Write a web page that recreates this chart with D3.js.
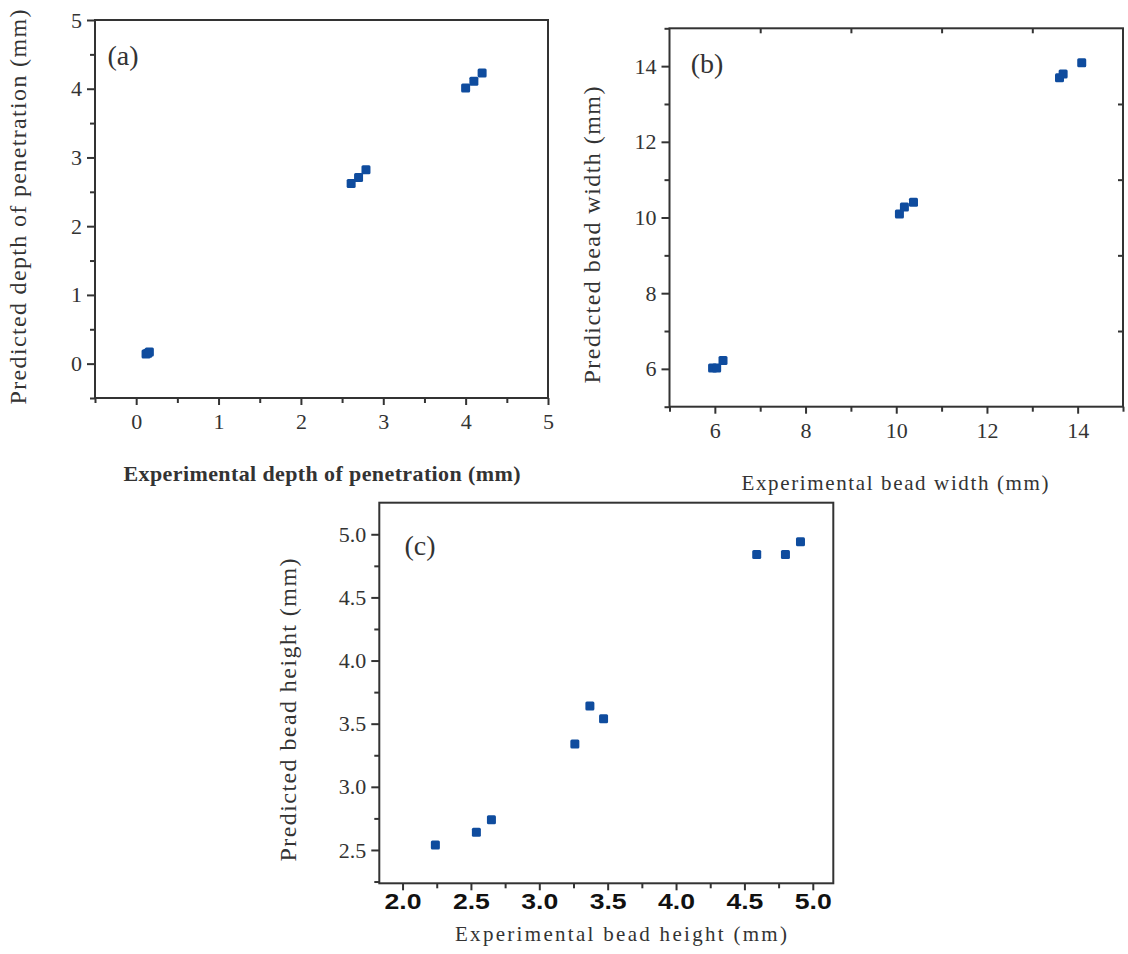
<!DOCTYPE html>
<meta charset="utf-8">
<html>
  <head>
    <style>
      body { margin: 0; background: #fff; }
      text { fill: #333; }
    </style>
    <script src="https://d3js.org/d3.v7.min.js"></script>
  </head>
  <body>
<div id="chart"></div>
<script>

// data
var aExp  = [0.12, 0.14, 0.16, 2.61, 2.70, 2.79, 4.00, 4.10, 4.20];
var aPred = [0.14, 0.15, 0.17, 2.62, 2.71, 2.82, 4.01, 4.11, 4.23];

var bExp  = [5.95, 6.04, 6.18, 10.07, 10.18, 10.38, 13.60, 13.68, 14.09];
var bPred = [6.02, 6.02, 6.22, 10.09, 10.28, 10.40, 13.69, 13.79, 14.09];

var cExp  = [2.24, 2.54, 2.65, 3.26, 3.37, 3.47, 4.59, 4.80, 4.91];
var cPred = [2.54, 2.64, 2.74, 3.34, 3.64, 3.54, 4.84, 4.84, 4.94];

var aTicks = [0, 1, 2, 3, 4, 5];
var aMinor = [-0.5, 0.5, 1.5, 2.5, 3.5, 4.5];
var bTicks = [6, 8, 10, 12, 14];
var bMinor = [5, 7, 9, 11, 13, 15];
var bInner = [7, 9, 11, 13];
var cXTicks = [2.0, 2.5, 3.0, 3.5, 4.0, 4.5, 5.0];
var cXMinor = [2.25, 2.75, 3.25, 3.75, 4.25, 4.75];
var cYTicks = [2.5, 3.0, 3.5, 4.0, 4.5, 5.0];
var cYMinor = [2.25, 2.75, 3.25, 3.75, 4.25, 4.75];

var serif = "Liberation Serif, Times New Roman, serif";
var sans = "Liberation Sans, Arial, sans-serif";
var blue = "#0f4c9e";
var axisColor = "#333";

var svg = d3.select("#chart")
  .append("svg")
  .attr("width", 1128)
  .attr("height", 954);

function styleAxis(g) {
  g.select(".domain").remove();
  g.selectAll("line").attr("stroke", axisColor).attr("stroke-width", 2);
}

function panel(p) {
  var x = d3.scaleLinear().domain(p.xDomain).range(p.xRange);
  var y = d3.scaleLinear().domain(p.yDomain).range(p.yRange);
  var g = svg.append("g");

  // frame
  g.append("rect")
    .attr("x", p.xRange[0]).attr("y", p.yRange[1])
    .attr("width", p.xRange[1] - p.xRange[0])
    .attr("height", p.yRange[0] - p.yRange[1])
    .attr("fill", "none").attr("stroke", axisColor).attr("stroke-width", 2);

  // minor ticks
  g.append("g").attr("transform", "translate(0," + p.yRange[0] + ")")
    .call(d3.axisBottom(x).tickValues(p.xMinor).tickSize(5).tickFormat(""))
    .call(styleAxis);
  g.append("g").attr("transform", "translate(" + p.xRange[0] + ",0)")
    .call(d3.axisLeft(y).tickValues(p.yMinor).tickSize(5).tickFormat(""))
    .call(styleAxis);

  // major ticks + labels
  var xa = g.append("g").attr("transform", "translate(0," + p.yRange[0] + ")")
    .call(d3.axisBottom(x).tickValues(p.xTicks).tickSize(7).tickPadding(p.xPad).tickFormat(p.xFmt))
    .call(styleAxis);
  xa.selectAll("text")
    .style("font-family", p.xFont || serif)
    .style("font-size", (p.xSize || 22) + "px")
    .style("font-weight", p.xWeight || "normal")
    .style("fill", p.xWeight ? "#111" : "#333");
  if (p.xLen) xa.selectAll("text").attr("textLength", p.xLen).attr("lengthAdjust", "spacingAndGlyphs");

  var ya = g.append("g").attr("transform", "translate(" + p.xRange[0] + ",0)")
    .call(d3.axisLeft(y).tickValues(p.yTicks).tickSize(8).tickPadding(5).tickFormat(p.yFmt))
    .call(styleAxis);
  ya.selectAll("text").style("font-family", serif).style("font-size", "22px");

  // inner ticks on top and right
  if (p.inner) {
    g.append("g").attr("transform", "translate(0," + p.yRange[1] + ")")
      .call(d3.axisBottom(x).tickValues(p.inner).tickSize(5).tickFormat(""))
      .call(styleAxis);
    g.append("g").attr("transform", "translate(" + p.xRange[1] + ",0)")
      .call(d3.axisLeft(y).tickValues(p.inner).tickSize(5).tickFormat(""))
      .call(styleAxis);
  }

  // points
  var pts = p.xs.map(function(v, i) { return [v, p.ys[i]]; });
  g.selectAll(".pt").data(pts).enter().append("rect")
    .attr("class", "pt")
    .attr("x", function(d) { return x(d[0]) - 4.5; })
    .attr("y", function(d) { return y(d[1]) - 4.5; })
    .attr("width", 9).attr("height", 9).attr("rx", 1.5)
    .attr("fill", blue);

  // panel letter
  g.append("text").attr("x", p.tag[0]).attr("y", p.tag[1])
    .style("font-family", serif).style("font-size", "28px")
    .attr("text-anchor", "middle").attr("dy", "0.35em")
    .text(p.tagText);

  // axis titles
  g.append("text")
    .attr("x", p.xt[0]).attr("y", p.xt[1])
    .attr("text-anchor", "middle")
    .style("font-family", serif).style("font-size", p.xtSize + "px")
    .style("font-weight", p.xtWeight || "normal")
    .attr("textLength", p.xt[2]).attr("lengthAdjust", "spacing")
    .text(p.xTitle);
  g.append("text")
    .attr("transform", "translate(" + p.yt[0] + "," + p.yt[1] + ") rotate(-90)")
    .attr("text-anchor", "middle").attr("dy", "0.35em")
    .style("font-family", serif).style("font-size", "24px")
    .attr("textLength", p.yt[2]).attr("lengthAdjust", "spacing")
    .text(p.yTitle);
}

panel({
  xDomain: [-0.5, 5], xRange: [95, 548],
  yDomain: [-0.5, 5], yRange: [398, 20],
  xTicks: aTicks, xMinor: aMinor, yTicks: aTicks, yMinor: aMinor,
  xFmt: d3.format("d"), yFmt: d3.format("d"), xPad: 8,
  xs: aExp, ys: aPred,
  tag: [123, 55], tagText: "(a)",
  xt: [322, 481, 397], xtSize: 22, xtWeight: "bold",
  xTitle: "Experimental depth of penetration (mm)",
  yt: [18, 207, 395], yTitle: "Predicted depth of penetration (mm)"
});

panel({
  xDomain: [5, 15], xRange: [669.5, 1123],
  yDomain: [5, 15], yRange: [406.7, 28.3],
  xTicks: bTicks, xMinor: bMinor, yTicks: bTicks, yMinor: bMinor,
  xFmt: d3.format("d"), yFmt: d3.format("d"), xPad: 9,
  xs: bExp, ys: bPred, inner: bInner,
  tag: [707, 63], tagText: "(b)",
  xt: [895, 490, 307], xtSize: 21,
  xTitle: "Experimental bead width (mm)",
  yt: [592, 235, 297], yTitle: "Predicted bead width (mm)"
});

panel({
  xDomain: [1.83, 5.15], xRange: [379.3, 833.3],
  yDomain: [2.236, 5.25], yRange: [883.3, 502.7],
  xTicks: cXTicks, xMinor: cXMinor, yTicks: cYTicks, yMinor: cYMinor,
  xFmt: d3.format(".1f"), yFmt: d3.format(".1f"), xPad: 3,
  xFont: sans, xSize: 22, xWeight: "bold", xLen: 37,
  xs: cExp, ys: cPred,
  tag: [420, 545], tagText: "(c)",
  xt: [621, 941, 332], xtSize: 21,
  xTitle: "Experimental bead height (mm)",
  yt: [288, 710, 303], yTitle: "Predicted bead height (mm)"
});

</script>
</body>
</html>
